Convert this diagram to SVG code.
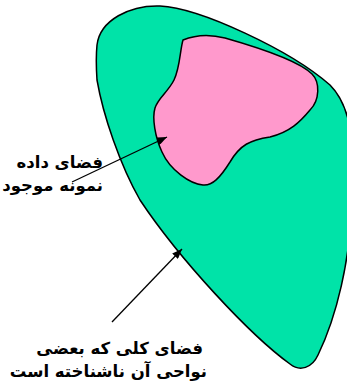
<svg xmlns="http://www.w3.org/2000/svg" width="347" height="389" viewBox="0 0 347 389">
<style>
.region{stroke:#000;stroke-width:1.5;stroke-linejoin:round}
.lbl{font-family:"DejaVu Sans",sans-serif;font-weight:bold;font-size:16.5px;fill:#000;text-anchor:end}
.conn{stroke:#000;stroke-width:1.3;fill:none;marker-end:url(#ah)}
</style>
<defs>
<marker id="ah" viewBox="0 0 10 8" refX="10" refY="4" markerWidth="10" markerHeight="8" markerUnits="userSpaceOnUse" orient="auto">
<path d="M0,0 L10,4 L0,8 Z" fill="#000"/>
</marker>
</defs>
<rect width="347" height="389" fill="#fff"/>
<g id="universe">
<path class="region" fill="#00E3A8" d="M97,45 C100,20 130,5 160,6 C200,8 290,50 330,85 C350,105 356,140 352,190 C352,260 335,320 318,355 C312,368 300,372 290,364 C250,335 180,260 140,200 C120,165 103,115 97,80 C96,65 96,55 97,45 Z"/>
</g>
<g id="sample">
<path class="region" fill="#FF99CC" d="M183,40 C195,35 210,34 225,38 C260,48 300,62 312,74 C320,82 320,100 310,110 C300,122 290,132 270,137 C250,140 240,145 230,162 C220,178 212,186 203,185 C190,184 170,170 162,152 C155,137 152,118 155,108 C158,98 168,92 174,80 C180,68 180,50 183,40 Z"/>
</g>
<g id="connectors">
<line class="conn" x1="72" y1="182" x2="167" y2="137"/>
<line class="conn" x1="112" y1="322" x2="182" y2="249"/>
</g>
<g id="label-sample">
<text class="lbl" x="103" y="168">فضای داده</text>
<text class="lbl" x="103" y="191">نمونه موجود</text>
</g>
<g id="label-universe">
<text class="lbl" x="203" y="354">فضای کلی که بعضی</text>
<text class="lbl" x="207" y="377">نواحی آن ناشناخته است</text>
</g>
</svg>
